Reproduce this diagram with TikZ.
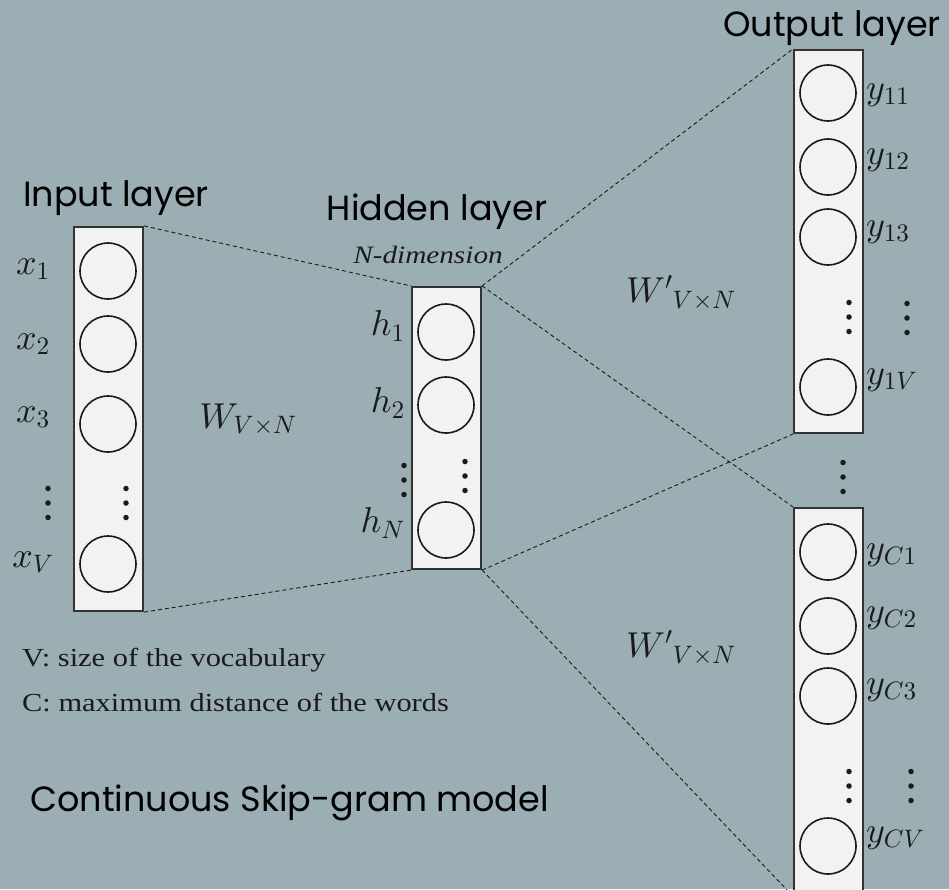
\documentclass[tikz,border=0pt]{standalone}
\DeclareFontShape{OML}{cmm}{m}{it}{<->cmmi10}{}
\DeclareFontShape{OMS}{cmsy}{m}{n}{<->cmsy10}{}
\DeclareFontShape{OT1}{cmr}{m}{n}{<->cmr10}{}
\usepackage{fontspec}
\setmainfont{Liberation Serif}
\newfontfamily\titlefont{Poppins}
\newfontfamily\notefont[FakeStretch=1.17]{Liberation Serif}
\definecolor{bgc}{HTML}{9AAEB4}
\definecolor{boxfill}{HTML}{F2F2F2}
\definecolor{boxline}{HTML}{333333}
\definecolor{inkc}{HTML}{1A1A1A}
\newcommand{\dotcol}[3]{%
  \node[dotn] (#1a) at (#2,#3-14.5) {};
  \node[dotn] (#1b) at (#2,#3) {};
  \node[dotn] (#1c) at (#2,#3+14.5) {};}
\begin{document}
\begin{tikzpicture}[x=1pt,y=-1pt,
  layerbox/.style={draw=boxline,line width=2.2pt,fill=boxfill,rectangle,minimum width=69pt,inner sep=0pt},
  neuron/.style={circle,draw=inkc,line width=1.6pt,minimum size=56pt,inner sep=0pt},
  conn/.style={draw=inkc,line width=0.9pt,dash pattern=on 4pt off 3pt},
  ttl/.style={font=\titlefont\fontsize{35}{40}\selectfont,text=black,inner sep=0pt},
  lbl/.style={font=\fontsize{36}{42}\selectfont,text=inkc,inner sep=0pt},
  note/.style={font=\notefont\fontsize{26}{30}\selectfont,text=inkc,inner sep=0pt,anchor=west},
  dotn/.style={circle,fill=inkc,minimum size=5.5pt,inner sep=0pt}
]
\fill[bgc] (0,0) rectangle (949,889);
\useasboundingbox (0,0) rectangle (949,889);
\begin{scope}
\clip (0,0) rectangle (949,889);
% boxes
\node[layerbox,minimum height=384pt] (in) at (108.5,419) {};
\node[layerbox,minimum height=282pt] (hid) at (446.5,428) {};
\node[layerbox,minimum height=383pt] (o1) at (828.5,241.5) {};
\node[layerbox,minimum height=387pt] (o2) at (828.5,701.5) {};
% connectors
\draw[conn] (in.north east) -- (hid.north west);
\draw[conn] (in.south east) -- (hid.south west);
\draw[conn] (hid.north east) -- (o1.north west);
\draw[conn] (hid.north east) -- (o2.north west);
\draw[conn] (hid.south east) -- (o1.south west);
\draw[conn] (hid.south east) -- (o2.south west);
\end{scope}
% input neurons
\node[neuron] (x1) at (108,271) {};
\node[neuron] (x2) at (108,344) {};
\node[neuron] (x3) at (108,424) {};
\node[neuron] (xV) at (108,564) {};
\dotcol{xd}{126}{503}
\dotcol{xdl}{48}{503}
\node[lbl] (lx1) at (33,269) {$x_1$};
\node[lbl] (lx2) at (33,344) {$x_2$};
\node[lbl] (lx3) at (33,417) {$x_3$};
\node[lbl] (lxV) at (33,562) {$x_V$};
% hidden neurons
\node[neuron] (h1) at (446,332) {};
\node[neuron] (h2) at (446,405) {};
\node[neuron] (hN) at (446,530) {};
\dotcol{hd}{465}{476}
\dotcol{hdl}{404}{480}
\node[lbl,anchor=east] (lh1) at (405,326) {$h_1$};
\node[lbl,anchor=east] (lh2) at (405,403) {$h_2$};
\node[lbl,anchor=east] (lhN) at (405,523) {$h_N$};
% output 1
\node[neuron] (y11) at (828,93) {};
\node[neuron] (y12) at (828,167) {};
\node[neuron] (y13) at (828,237) {};
\node[neuron] (y1V) at (828,387) {};
\dotcol{o1d}{849}{317}
\dotcol{o1dr}{907}{318}
\node[lbl,anchor=west] (ly11) at (866,95) {$y_{11}$};
\node[lbl,anchor=west] (ly12) at (866,160) {$y_{12}$};
\node[lbl,anchor=west] (ly13) at (866,232) {$y_{13}$};
\node[lbl,anchor=west] (ly1V) at (866,380) {$y_{1V}$};
\dotcol{mid}{843}{477}
% output 2
\node[neuron] (yC1) at (828,552) {};
\node[neuron] (yC2) at (828,626) {};
\node[neuron] (yC3) at (828,696) {};
\node[neuron] (yCV) at (828,846) {};
\dotcol{o2d}{849}{786}
\dotcol{o2dr}{911}{786}
\node[lbl,anchor=west] (lyC1) at (866,555) {$y_{C1}$};
\node[lbl,anchor=west] (lyC2) at (866,618) {$y_{C2}$};
\node[lbl,anchor=west] (lyC3) at (866,690) {$y_{C3}$};
\node[lbl,anchor=west] (lyCV) at (866,838) {$y_{CV}$};
% weights
\node[lbl] (w) at (248,420) {$W_{V\times N}$};
\node[lbl] (wp1) at (681,293) {${W'}_{V\times N}$};
\node[lbl] (wp2) at (681,648) {${W'}_{V\times N}$};
% titles
\node[ttl] (tin) at (116,198) {Input layer};
\node[ttl] (thid) at (437,212) {Hidden layer};
\node[font=\notefont\itshape\fontsize{25}{30}\selectfont,text=inkc,inner sep=0pt] (ndim) at (428,255) {N-dimension};
\node[ttl] (tout) at (832,28) {Output layer};
\node[note] (nv) at (22,660) {V: size of the vocabulary};
\node[note] (nc) at (22,703) {C: maximum distance of the words};
\node[ttl,anchor=west] (model) at (30,803) {Continuous Skip-gram model};
\end{tikzpicture}
\end{document}
